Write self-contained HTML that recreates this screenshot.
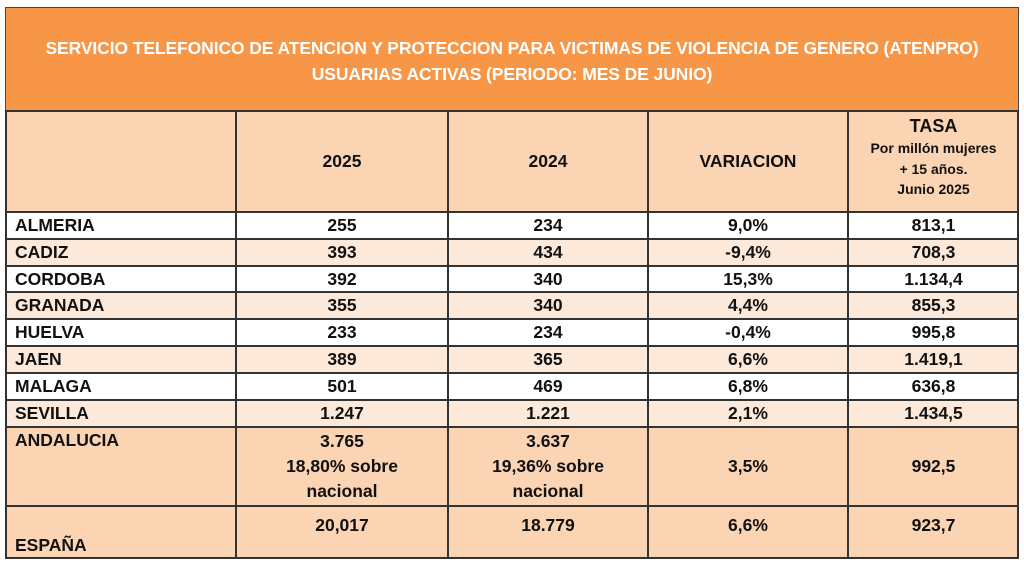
<!DOCTYPE html>
<html><head><meta charset="utf-8"><style>
*{margin:0;padding:0;box-sizing:border-box}
body{width:1024px;height:564px;background:#fff;position:relative;overflow:hidden;font-family:"Liberation Sans",sans-serif;font-weight:bold;color:#111}
.t{position:absolute;left:5px;top:7px;width:1014px;height:104px;background:#f79646;border:1.5px solid #444;color:#fff;font-size:17.5px;text-align:center;padding-top:27px;line-height:26px;letter-spacing:-0.1px}
.r{position:absolute;left:5px;width:1014px}
.c{position:absolute;top:0;height:100%;display:flex;align-items:center;justify-content:center;text-align:center;font-size:17.5px;line-height:25px}
.h{position:absolute;height:2px;background:#333;left:5px;width:1014px}
.v{position:absolute;width:2px;background:#333;top:111px;height:448px}
</style></head><body>
<div class="t">SERVICIO TELEFONICO DE ATENCION Y PROTECCION PARA VICTIMAS DE VIOLENCIA DE GENERO (ATENPRO)<br>USUARIAS ACTIVAS (PERIODO: MES DE JUNIO)</div>

<div class="r" style="top:111px;height:101px;background:#fbd4b4">
<div class="c" style="left:231px;width:212px">2025</div>
<div class="c" style="left:443px;width:200px">2024</div>
<div class="c" style="left:643px;width:200px">VARIACION</div>
<div class="c" style="left:843px;width:171px;flex-direction:column;justify-content:flex-start;padding-top:3px"><span style="font-size:18px;line-height:24px">TASA</span><span style="font-size:14px;line-height:20.5px">Por millón mujeres<br>+ 15 años.<br>Junio 2025</span></div>
</div>

<div class="r" style="top:212px;height:27px;background:#fff"><div class="c" style="left:0;width:231px;justify-content:flex-start;padding-left:10px">ALMERIA</div><div class="c" style="left:231px;width:212px">255</div><div class="c" style="left:443px;width:200px">234</div><div class="c" style="left:643px;width:200px">9,0%</div><div class="c" style="left:843px;width:171px">813,1</div></div>
<div class="r" style="top:239px;height:27px;background:#fde9d9"><div class="c" style="left:0;width:231px;justify-content:flex-start;padding-left:10px">CADIZ</div><div class="c" style="left:231px;width:212px">393</div><div class="c" style="left:443px;width:200px">434</div><div class="c" style="left:643px;width:200px">-9,4%</div><div class="c" style="left:843px;width:171px">708,3</div></div>
<div class="r" style="top:266px;height:26px;background:#fff"><div class="c" style="left:0;width:231px;justify-content:flex-start;padding-left:10px">CORDOBA</div><div class="c" style="left:231px;width:212px">392</div><div class="c" style="left:443px;width:200px">340</div><div class="c" style="left:643px;width:200px">15,3%</div><div class="c" style="left:843px;width:171px">1.134,4</div></div>
<div class="r" style="top:292px;height:27px;background:#fde9d9"><div class="c" style="left:0;width:231px;justify-content:flex-start;padding-left:10px">GRANADA</div><div class="c" style="left:231px;width:212px">355</div><div class="c" style="left:443px;width:200px">340</div><div class="c" style="left:643px;width:200px">4,4%</div><div class="c" style="left:843px;width:171px">855,3</div></div>
<div class="r" style="top:319px;height:27px;background:#fff"><div class="c" style="left:0;width:231px;justify-content:flex-start;padding-left:10px">HUELVA</div><div class="c" style="left:231px;width:212px">233</div><div class="c" style="left:443px;width:200px">234</div><div class="c" style="left:643px;width:200px">-0,4%</div><div class="c" style="left:843px;width:171px">995,8</div></div>
<div class="r" style="top:346px;height:27px;background:#fde9d9"><div class="c" style="left:0;width:231px;justify-content:flex-start;padding-left:10px">JAEN</div><div class="c" style="left:231px;width:212px">389</div><div class="c" style="left:443px;width:200px">365</div><div class="c" style="left:643px;width:200px">6,6%</div><div class="c" style="left:843px;width:171px">1.419,1</div></div>
<div class="r" style="top:373px;height:27px;background:#fff"><div class="c" style="left:0;width:231px;justify-content:flex-start;padding-left:10px">MALAGA</div><div class="c" style="left:231px;width:212px">501</div><div class="c" style="left:443px;width:200px">469</div><div class="c" style="left:643px;width:200px">6,8%</div><div class="c" style="left:843px;width:171px">636,8</div></div>
<div class="r" style="top:400px;height:27px;background:#fde9d9"><div class="c" style="left:0;width:231px;justify-content:flex-start;padding-left:10px">SEVILLA</div><div class="c" style="left:231px;width:212px">1.247</div><div class="c" style="left:443px;width:200px">1.221</div><div class="c" style="left:643px;width:200px">2,1%</div><div class="c" style="left:843px;width:171px">1.434,5</div></div>
<div class="r" style="top:427px;height:79px;background:#fbd4b4"><div class="c" style="left:0;width:231px;justify-content:flex-start;align-items:flex-start;padding-left:10px;padding-top:1px">ANDALUCIA</div><div class="c" style="left:231px;width:212px">3.765<br>18,80% sobre<br>nacional</div><div class="c" style="left:443px;width:200px">3.637<br>19,36% sobre<br>nacional</div><div class="c" style="left:643px;width:200px">3,5%</div><div class="c" style="left:843px;width:171px">992,5</div></div>
<div class="r" style="top:506px;height:52px;background:#fbd4b4"><div class="c" style="left:0;width:231px;justify-content:flex-start;align-items:flex-end;padding-left:10px">ESPAÑA</div><div class="c" style="left:231px;width:212px;padding-bottom:14px">20,017</div><div class="c" style="left:443px;width:200px;padding-bottom:14px">18.779</div><div class="c" style="left:643px;width:200px;padding-bottom:14px">6,6%</div><div class="c" style="left:843px;width:171px;padding-bottom:14px">923,7</div></div>

<div class="h" style="top:110px"></div><div class="h" style="top:211px"></div><div class="h" style="top:238px"></div><div class="h" style="top:265px"></div><div class="h" style="top:291px"></div><div class="h" style="top:318px"></div><div class="h" style="top:345px"></div><div class="h" style="top:372px"></div><div class="h" style="top:399px"></div><div class="h" style="top:426px"></div><div class="h" style="top:505px"></div><div class="h" style="top:557px"></div>
<div class="v" style="left:5px"></div><div class="v" style="left:235px"></div><div class="v" style="left:447px"></div><div class="v" style="left:647px"></div><div class="v" style="left:847px"></div><div class="v" style="left:1017px"></div>
</body></html>
